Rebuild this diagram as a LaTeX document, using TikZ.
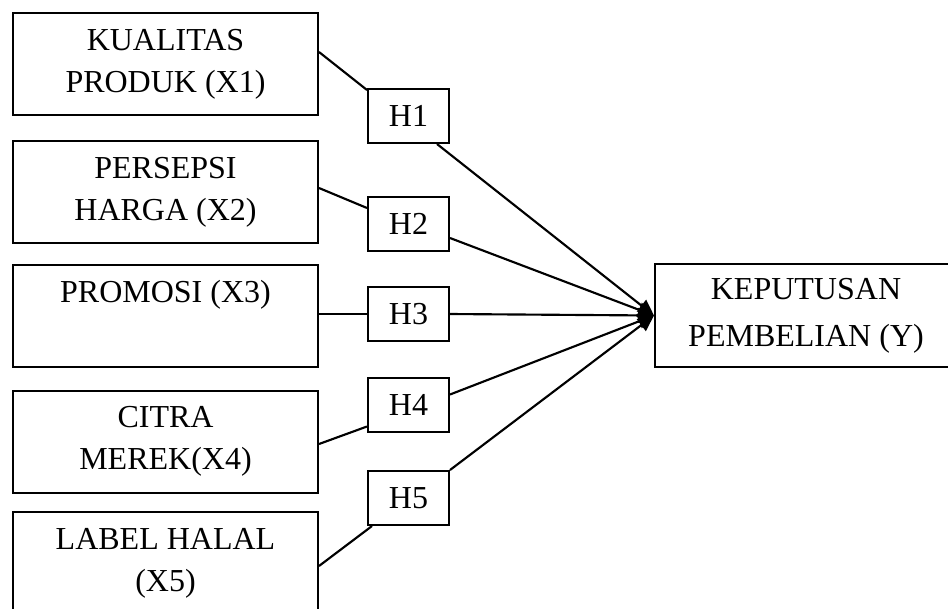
\documentclass[tikz,border=0pt]{standalone}
\usepackage{fontspec}
\setmainfont{Liberation Serif}
\usetikzlibrary{arrows.meta}

\begin{document}
\begin{tikzpicture}[x=0.75pt,y=-0.75pt,
  line width=1.5pt,
  varbox/.style={draw,align=center,inner sep=0pt,minimum width=228.75pt,minimum height=76.5pt,
    font=\fontsize{24}{31.5}\selectfont},
  hypbox/.style={draw,inner sep=0pt,minimum width=60.75pt,minimum height=40.5pt,
    font=\fontsize{24}{31.5}\selectfont},
  link/.style={line width=1.6pt},
  effect/.style={line width=1.6pt,-{Triangle[length=12pt,width=11pt]}}]
\useasboundingbox (0,0) rectangle (948,608);
\clip (0,0) rectangle (948,608);

% variables
\node[varbox] (x1) at (165.5,64) {KUALITAS\\PRODUK (X1)};
\node[varbox] (x2) at (165.5,192) {PERSEPSI\\HARGA (X2)};
\node[varbox] (x3) at (165.5,316) {PROMOSI (X3)\\\phantom{(X3)}};
\node[varbox] (x4) at (165.5,441.5) {CITRA\\MEREK(X4)};
\node[varbox] (x5) at (165.5,563) {LABEL HALAL\\(X5)};

\node[varbox,minimum width=226.5pt,minimum height=77.25pt,
  font=\fontsize{24}{35}\selectfont] (y) at (806,315.5) {KEPUTUSAN\\PEMBELIAN (Y)};

% hypotheses
\node[hypbox] (h1) at (408.5,116) {H1};
\node[hypbox] (h2) at (408.5,224) {H2};
\node[hypbox] (h3) at (408.5,314) {H3};
\node[hypbox] (h4) at (408.5,404.5) {H4};
\node[hypbox] (h5) at (408.5,498) {H5};

\draw[link] ([shift={(0,-12)}]x1.east) -- ([shift={(0,2)}]h1.north west);
\draw[link] ([shift={(0,-4)}]x2.east) -- ([shift={(0,-16)}]h2.west);
\draw[link] ([shift={(0,-2)}]x3.east) -- (h3.west);
\draw[link] ([shift={(0,2.5)}]x4.east) -- ([shift={(0,-6)}]h4.south west);
\draw[link] ([shift={(0,3)}]x5.east) -- ([shift={(5,0)}]h5.south west);

\draw[effect] ([shift={(-13,0)}]h1.south east) -- (y.west);
\draw[effect] ([shift={(0,14)}]h2.east) -- (y.west);
\draw[effect] (h3.east) -- (y.west);
\draw[effect] ([shift={(0,-10)}]h4.east) -- (y.west);
\draw[effect] (h5.north east) -- (y.west);

\end{tikzpicture}
\end{document}
